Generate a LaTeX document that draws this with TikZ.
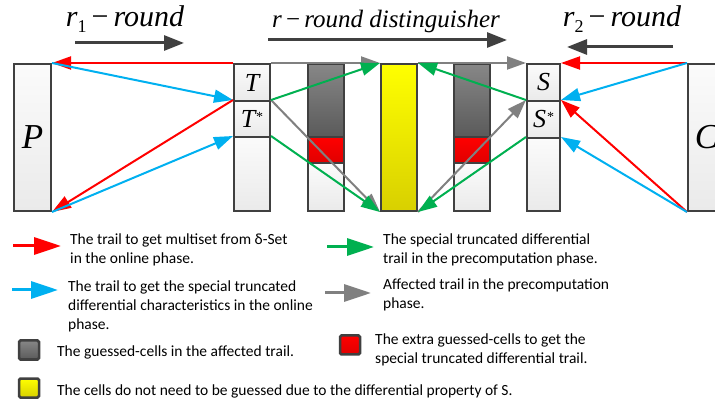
\documentclass[tikz,border=0pt]{standalone}
\usepackage{fontspec}
\setmainfont{Carlito}
\newfontfamily\tms{Liberation Serif}
\usetikzlibrary{arrows.meta}
\definecolor{cred}{HTML}{FF0000}
\definecolor{cblue}{HTML}{00B0F0}
\definecolor{cgreen}{HTML}{00B050}
\definecolor{cgray}{HTML}{808080}
\definecolor{cdark}{HTML}{404040}
\definecolor{lighttop}{HTML}{FBFBFB}
\definecolor{lightbot}{HTML}{EAEAEA}
\definecolor{graytop}{HTML}{878787}
\definecolor{graybot}{HTML}{5A5A5A}
\definecolor{yeltop}{HTML}{FFFF00}
\definecolor{yelbot}{HTML}{D8D000}
\definecolor{redbot}{HTML}{E00000}
\begin{document}
\begin{tikzpicture}[x=1pt,y=-1pt,
  cellbase/.style={draw=cdark, line width=2pt, inner sep=0pt, anchor=north west, minimum width=36pt},
  light/.style={cellbase, top color=lighttop, bottom color=lightbot},
  grayc/.style={cellbase, top color=graytop, bottom color=graybot},
  redc/.style={cellbase, top color=cred, bottom color=redbot},
  yelc/.style={cellbase, top color=yeltop, bottom color=yelbot},
  conn/.style={line width=2pt, -{Triangle[length=19pt,width=13pt]}},
  redarr/.style={conn, draw=cred, fill=cred},
  bluearr/.style={conn, draw=cblue, fill=cblue},
  greenarr/.style={conn, draw=cgreen, fill=cgreen},
  grayarr/.style={conn, draw=cgray, fill=cgray},
  toparr/.style={draw=cdark, line width=3pt, -{Triangle[length=20pt,width=15pt]}},
  legarr/.style={line width=3pt, -{Triangle[length=27pt,width=17pt]}},
  legbox/.style={draw=cdark, line width=2.5pt, rounded corners=1.5pt, minimum width=20pt, minimum height=19pt, inner sep=0pt},
  legtext/.style={anchor=west, align=left, inner sep=0pt, font=\fontsize{15.5}{19}\selectfont},
  letter/.style={font=\tms\itshape\fontsize{26}{26}\selectfont},
  toplabel/.style={font=\tms\itshape\fontsize{30}{30}\selectfont, inner sep=0pt}
]
\useasboundingbox (0,0) rectangle (715,403);

% columns
\node[light, minimum width=37pt, minimum height=147pt, font=\tms\itshape\fontsize{35}{35}\selectfont] (P) at (13,63) {P};

\node[light, minimum height=37pt, letter] (Tc) at (233,63) {T};
\node[light, minimum height=36pt, letter] (Ts) at (233,100) {T\kern1pt\raisebox{6pt}{\upshape\fontsize{14}{14}\selectfont *}};
\node[light, minimum height=74pt] (Tr) at (233,136) {};

\node[grayc, minimum height=73pt] (G1g) at (307,63) {};
\node[redc, minimum height=26pt] (G1r) at (307,136) {};
\node[light, minimum height=48pt] (G1l) at (307,162) {};

\node[yelc, minimum height=147pt] (Y) at (380,63) {};

\node[grayc, minimum height=73pt] (G2g) at (453,63) {};
\node[redc, minimum height=26pt] (G2r) at (453,136) {};
\node[light, minimum height=48pt] (G2l) at (453,162) {};

\node[light, minimum width=33pt, minimum height=37pt, letter] (Sc) at (526,63) {S};
\node[light, minimum width=33pt, minimum height=37pt, letter] (Ss) at (526,100) {S\kern1pt\raisebox{6pt}{\upshape\fontsize{14}{14}\selectfont *}};
\node[light, minimum width=33pt, minimum height=73pt] (Sr) at (526,137) {};

\node[light, minimum width=37pt, minimum height=147pt, font=\tms\itshape\fontsize{35}{35}\selectfont] (C) at (687,63) {C};

% connectors left part
\draw[redarr] (Tc.north west) -- (P.north east);
\draw[bluearr] (P.north east) -- (Ts.north west);
\draw[redarr] (Ts.north west) -- (P.south east);
\draw[bluearr] (P.south east) -- (Tr.north west);
% middle
\draw[grayarr] (Tc.north east) -- (Y.north west);
\draw[grayarr] (Ts.north east) -- (Y.south west);
\draw[greenarr] (Ts.north east) -- (Y.north west);
\draw[greenarr] (Tr.north east) -- (Y.south west);
\draw[grayarr] (Y.north east) -- (Sc.north west);
\draw[grayarr] (Y.south east) -- (Ss.north west);
\draw[greenarr] (Ss.north west) -- (Y.north east);
\draw[greenarr] (Sr.north west) -- (Y.south east);
% right
\draw[redarr] (C.north west) -- (Sc.north east);
\draw[bluearr] (C.north west) -- (Ss.north east);
\draw[redarr] (C.south west) -- (Ss.north east);
\draw[bluearr] (C.south west) -- (Sr.north east);

% top labels
\node[toplabel] (l1) at (125,19) {r\raisebox{-6pt}{\upshape\fontsize{18}{18}\selectfont 1}\,\upshape−\,\itshape round};
\coordinate (a1s) at (75,43);
\coordinate (a1e) at (184,43);
\draw[toparr] (a1s) -- (a1e);

\node[toplabel, font=\tms\itshape\fontsize{25}{25}\selectfont] (l2) at (386,21) {r\,\upshape−\,\itshape round distinguisher};
\coordinate (a2s) at (268,40);
\coordinate (a2e) at (507,40);
\draw[toparr] (a2s) -- (a2e);

\node[toplabel] (l3) at (622,19) {r\raisebox{-6pt}{\upshape\fontsize{18}{18}\selectfont 2}\,\upshape−\,\itshape round};
\coordinate (a3s) at (673,47);
\coordinate (a3e) at (567,47);
\draw[toparr] (a3s) -- (a3e);

% legend
\coordinate (lr1) at (13,246); \coordinate (lr2) at (61,246);
\draw[legarr, draw=cred, fill=cred] (lr1) -- (lr2);
\node[legtext] (tr) at (70,250) {The trail to get multiset from δ-Set\\in the online phase.};

\coordinate (lb1) at (12,290); \coordinate (lb2) at (58,290);
\draw[legarr, draw=cblue, fill=cblue] (lb1) -- (lb2);
\node[legtext] (tb) at (68,306) {The trail to get the special truncated\\differential characteristics in the online\\phase.};

\coordinate (lg1) at (327,247); \coordinate (lg2) at (374,247);
\draw[legarr, draw=cgreen, fill=cgreen] (lg1) -- (lg2);
\node[legtext] (tg) at (383,250) {The special truncated differential\\trail in the precomputation phase.};

\coordinate (la1) at (325,293); \coordinate (la2) at (371,293);
\draw[legarr, draw=cgray, fill=cgray] (la1) -- (la2);
\node[legtext] (ta) at (383,295) {Affected trail in the precomputation\\phase.};

\node[legbox, top color=graytop, bottom color=graybot] (sq1) at (29,350) {};
\node[legtext] (tsq1) at (57,352) {The guessed-cells in the affected trail.};

\node[legbox, top color=cred, bottom color=redbot] (sq2) at (350,345) {};
\node[legtext] (tsq2) at (375,350) {The extra guessed-cells to get the\\special truncated differential trail.};

\node[legbox, top color=yeltop, bottom color=yelbot] (sq3) at (29,388) {};
\node[legtext] (tsq3) at (57,391) {The cells do not need to be guessed due to the differential property of S.};
\end{tikzpicture}
\end{document}
